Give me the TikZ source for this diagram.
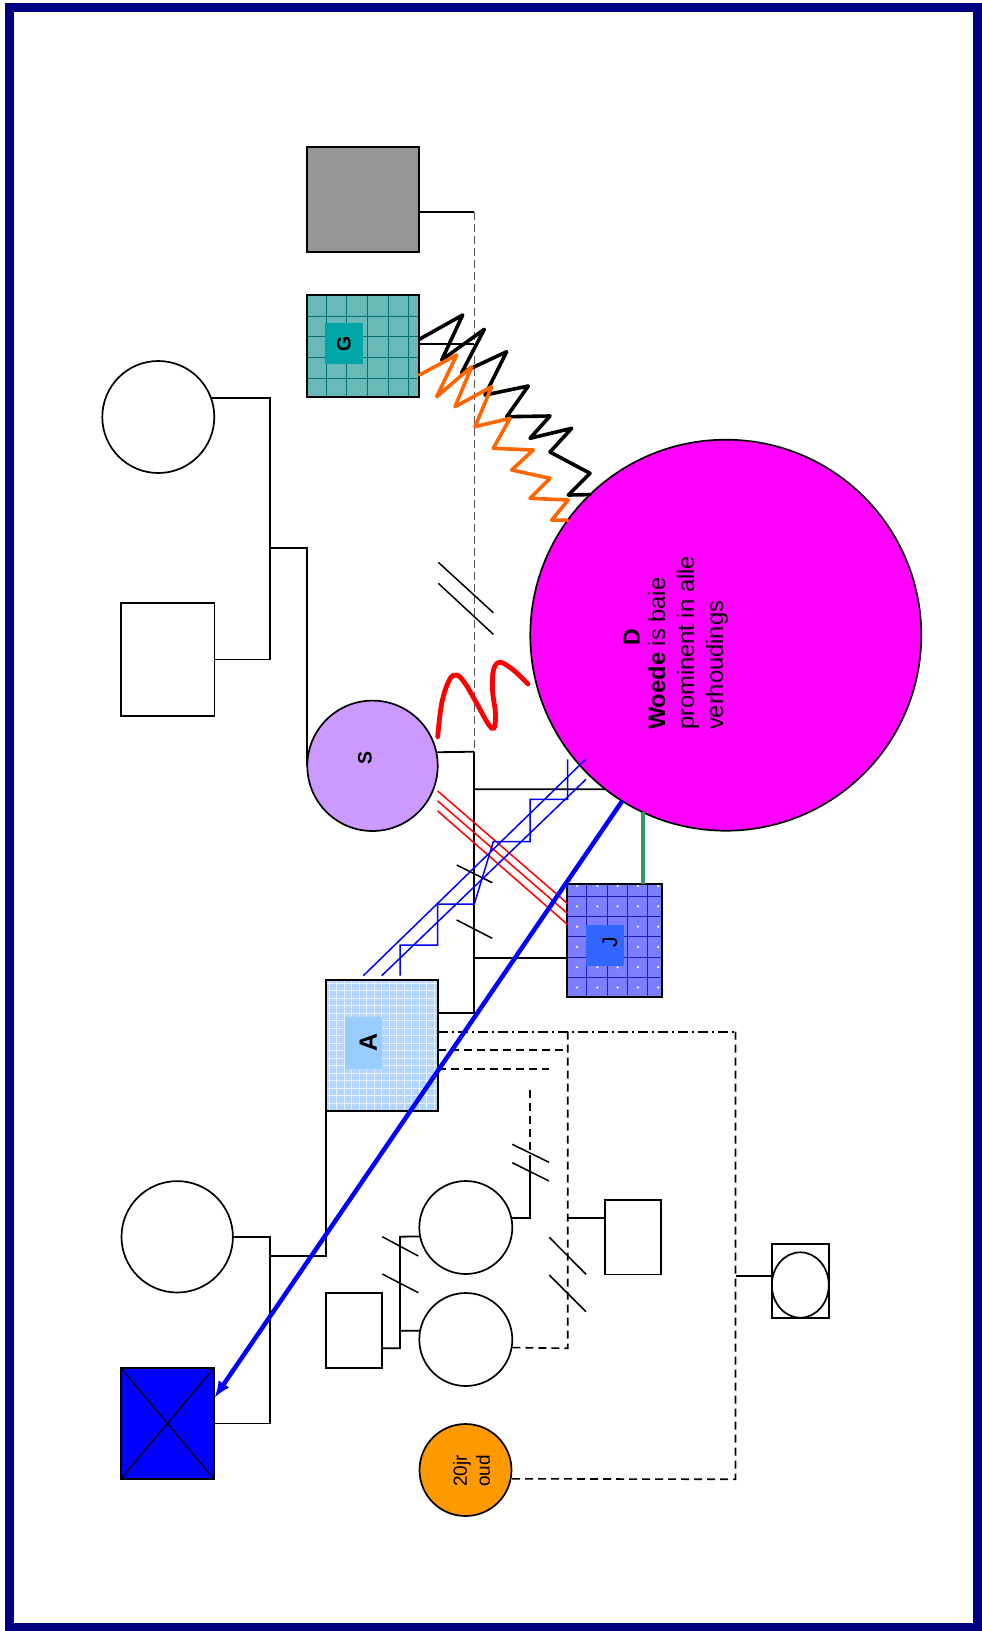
\documentclass[tikz,border=0pt]{standalone}
\usepackage{fontspec}
\setmainfont{Liberation Sans}
\usetikzlibrary{arrows.meta,calc,shapes.geometric}
\definecolor{navyb}{RGB}{0,0,128}
\definecolor{grayfill}{RGB}{150,150,150}
\definecolor{tealbg}{RGB}{105,185,185}
\definecolor{tealbox}{RGB}{0,166,166}
\definecolor{tealline}{RGB}{0,115,115}
\definecolor{abg}{RGB}{178,214,255}
\definecolor{abox}{RGB}{153,204,255}
\definecolor{jbg}{RGB}{125,125,255}
\definecolor{jbox}{RGB}{51,102,255}
\definecolor{jline}{RGB}{30,30,190}
\definecolor{lilac}{RGB}{204,153,255}
\definecolor{magentaD}{RGB}{255,0,255}
\definecolor{orangeC}{RGB}{255,153,0}
\definecolor{zzorange}{RGB}{255,102,0}
\definecolor{dgreen}{RGB}{51,153,102}
\definecolor{pureblue}{RGB}{0,0,255}
\definecolor{dashgray}{RGB}{85,85,85}
\begin{document}
\begin{tikzpicture}[x=1pt,y=-1pt,
  pbox/.style={draw=black,line width=1.7pt,inner sep=0pt,outer sep=0pt},
  sq/.style={pbox,rectangle},
  ci/.style={pbox,circle},
  rel/.style={draw=black,line width=1.8pt},
  slash/.style={draw=black,line width=1.5pt},
  dashrel/.style={draw=black,line width=1.6pt,dash pattern=on 8pt off 5pt},
  dashdotrel/.style={draw=black,line width=1.6pt,dash pattern=on 10pt off 4pt on 2pt off 4pt},
  graydash/.style={draw=dashgray,line width=1.6pt,dash pattern=on 8pt off 4pt},
  lbl/.style={rotate=90,inner sep=0pt},
  zz/.style={line width=3.6pt,line join=round,line cap=round},
  bluethin/.style={draw=pureblue,line width=1.5pt},
  redthin/.style={draw=red,line width=1.5pt},
]
\useasboundingbox (0,0) rectangle (982,1631);
\draw[navyb,line width=9pt] (9.5,7) rectangle (977.5,1627.5);

% ---------- persons ----------
\node[sq,fill=grayfill,minimum width=112pt,minimum height=104.4pt] (gray) at (363.3,199.5) {};
\node[sq,fill=tealbg,minimum width=112pt,minimum height=102pt] (G) at (363.3,345.7) {};
\begin{scope}
\clip (G.south west) rectangle (G.north east);
\foreach \k in {0,...,4} \draw[tealline,line width=0.8pt] (326+\k*20.7,294.7) -- ++(0,102);
\foreach \k in {-1,...,4} \draw[tealline,line width=0.8pt] (307.3,316+\k*20.7) -- ++(112,0);
\end{scope}
\draw[line width=1.7pt] (G.south west) rectangle (G.north east);
\node[lbl,fill=tealbox,minimum width=41.6pt,minimum height=37.7pt,font=\fontsize{19.5}{23}\selectfont\bfseries] (Gt) at (343.8,343.5) {G};

\node[ci,minimum size=112pt] (tc) at (158.3,417) {};
\node[sq,minimum width=93.3pt,minimum height=112.4pt] (ts) at (167.7,659.5) {};
\node[ci,fill=lilac,minimum size=130.4pt] (S) at (372.5,765.8) {};
\node[lbl,font=\fontsize{19.5}{23}\selectfont\bfseries] (St) at (365,758) {S};

\node[ci,fill=magentaD,minimum size=391pt] (D) at (725.8,635.2) {};
\node[lbl,font=\fontsize{23}{28}\selectfont\bfseries] (Dt) at (631.7,636.7) {D};
\node[lbl,align=left,font=\fontsize{23.7}{29}\selectfont] (Dtxt) at (688,643) {\textbf{Woede} is baie\\prominent in alle\\verhoudings};

\node[sq,fill=jbg,minimum width=94.4pt,minimum height=112.4pt] (J) at (614.5,940.5) {};
\begin{scope}
\clip (J.south west) rectangle (J.north east);
\foreach \k in {0,...,3} \draw[jline,line width=0.8pt] (586.7+\k*20.3,884.3) -- ++(0,112.4);
\foreach \k in {0,...,4} \draw[jline,line width=0.8pt] (567.3,896+\k*20.3) -- ++(94.4,0);
\foreach \i in {0,...,4} \foreach \j in {0,...,5} \fill[white] (577+\i*20.3,886+\j*20.3) circle (1.2pt);
\end{scope}
\draw[line width=1.7pt] (J.south west) rectangle (J.north east);
\node[lbl,fill=jbox,minimum width=41pt,minimum height=38pt] (Jbox) at (605,945.5) {};
\node[lbl,font=\fontsize{21}{25}\selectfont] (Jt) at (610,942) {J};

\node[sq,fill=abg,minimum width=112.6pt,minimum height=130.7pt] (A) at (382,1045.35) {};
\begin{scope}
\clip (A.south west) rectangle (A.north east);
\foreach \k in {0,...,15} \draw[white,line width=0.7pt,opacity=0.7] (329+\k*7.5,980) -- ++(0,130.7);
\foreach \k in {0,...,17} \draw[white,line width=0.7pt,opacity=0.7] (325.7,983+\k*7.5) -- ++(112.6,0);
\end{scope}
\draw[line width=1.7pt] (A.south west) rectangle (A.north east);
\node[lbl,fill=abox,minimum width=51.7pt,minimum height=37.3pt] (Abox) at (363.7,1043.2) {};
\node[lbl,font=\fontsize{25}{30}\selectfont\bfseries] (At) at (368.3,1042.8) {A};

\node[ci,minimum size=111.4pt] (lc) at (177.2,1236.8) {};
\node[sq,fill=pureblue,minimum width=93.6pt,minimum height=111.6pt] (X) at (167.5,1423.5) {};
\draw[line width=1.2pt] (X.north west) -- (X.south east) (X.north east) -- (X.south west);
\node[sq,minimum width=56.6pt,minimum height=75pt] (sm) at (354,1330.2) {};
\node[ci,minimum size=93pt] (c1) at (465.8,1227.5) {};
\node[ci,minimum size=93pt] (c2) at (465.8,1339.5) {};
\node[sq,minimum width=56pt,minimum height=74.3pt] (rr) at (633,1237.2) {};
\node[ci,fill=orangeC,minimum size=92pt] (o) at (465.5,1470) {};
\node[lbl,align=center,font=\fontsize{19}{23}\selectfont] (ot) at (471.7,1471) {20jr\\oud};
\node[sq,minimum width=57.3pt,minimum height=74pt] (sc) at (800.3,1281.3) {};
\node[pbox,ellipse,minimum width=57pt,minimum height=65.4pt] (sce) at (800.3,1285) {};

% ---------- family lines ----------
\coordinate (gj) at (474.3,211.7);
\coordinate (sj) at (474.3,751.7);
\coordinate (aj) at (474.3,1012.7);
\draw[rel] (tc.20) -| (270,659.5) -- (ts.east);
\draw[rel] (270,548.3) -| (S.west);
\draw[rel] (gray.east |- gj) -- (gj);
\draw[graydash] (gj) -- (sj);
\draw[rel] (G.east |- 0,344.3) -- (474.3,344.3);
\draw[rel] (S.12.5) -- (sj);
\draw[rel] (sj) -- (aj);
\draw[rel] (474.3,789.3) -- (D.-128);
\draw[rel] (474.3,957.7) -- (J.west |- 0,957.7);
\draw[rel] (A.east |- aj) -- (aj);
\draw[slash] (438.3,562.3) -- (493.3,612.7);
\draw[slash] (438.3,583.3) -- (493.3,634.3);
\draw[slash] (456.7,865) -- (492.3,882.7);
\draw[slash] (456.7,920) -- (492.3,938.3);

\draw[rel] (lc.east) -| (270,1423.5) -- (X.east);
\draw[rel] (A.south west) |- (270,1256);
\draw[rel] (sm.east |- 0,1348.3) -| (400,1236.7) -- (c1.191.4);
\draw[rel] (400,1330.7) -- (c2.169);
\draw[slash] (382.3,1236.7) -- (418.3,1256);
\draw[slash] (382.3,1274) -- (418.3,1292.7);
\draw[rel] (c1.12) -| (530,1163.3);
\draw[dashrel] (530,1163.3) -- (530,1088.3);
\draw[slash] (512.3,1144.3) -- (549,1162.3);
\draw[slash] (512.3,1162.7) -- (549,1181);

\draw[dashdotrel] (A.east |- 0,1031.7) -- (735.5,1031.7);
\draw[dashrel] (735.5,1031.7) -- (735.5,1479.3) -- (o.-11.7);
\draw[dashrel] (A.east |- 0,1050) -- (567.7,1050);
\draw[dashrel] (567.7,1031.7) -- (567.7,1348.3) -- (c2.-10.9);
\draw[dashrel] (A.east |- 0,1069) -- (549.3,1069);
\draw[rel] (567.7,1217.7) -- (rr.west |- 0,1217.7);
\draw[slash] (549.3,1237.3) -- (586,1274.3);
\draw[slash] (549.3,1275) -- (586,1311.7);
\draw[rel] (735.5,1276) -- (sc.west |- 0,1276);

% ---------- emotional relations ----------
\draw[zz,black] (G.east |- 0,339.3) -- (462.7,315) -- (441.7,360) -- (484.3,329.3) -- (461.7,372.7) -- (506.7,351.7) -- (485,395) -- (528.3,386) -- (506.7,416.7) -- (550,416) -- (530,438.3) -- (571.7,428.3) -- (550,452) -- (590,473.3) -- (568.3,495) -- (D.134);
\draw[zz,zzorange] (G.east |- 0,375) -- (456.7,355) -- (436.7,396.7) -- (471.7,366.7) -- (455,406.7) -- (491.7,386.7) -- (475,426.7) -- (510,418.3) -- (493.3,448.3) -- (533.3,450) -- (511.7,470) -- (550,478.3) -- (530,498.3) -- (568.3,500) -- (551.7,520) -- (D.144);

\draw[red,line width=4.8pt,line cap=round] plot[smooth,tension=0.6] coordinates {(437.7,736.7) (441.7,703.3) (449.3,680) (456.7,675) (465,683.3) (476.7,703.3) (488.3,724) (494,728) (495.5,714) (492.5,690) (493.5,670) (500,662.3) (513.3,670) (528,684)};

\draw[redthin] (437.7,791) -- (J.west |- 0,903.3);
\draw[redthin] (437.7,801) -- (J.west |- 0,913.3);
\draw[redthin] (437.7,811) -- (J.west |- 0,924.3);

\draw[bluethin] (363.3,975.7) -- (586,759);
\draw[bluethin] (381.7,975.7) -- (586,779.3);
\draw[bluethin] (400,975.7) -- (400,945) -- (437.7,945) -- (437.7,904) -- (474.3,904) -- (493.3,841.7) -- (530,841.7) -- (530,799.3) -- (567.7,799.3) -- (567.7,759.3);

\draw[dgreen,line width=3.4pt] (D.-115.2) -- (D.-115.2 |- J.north);

\draw[pureblue,line width=4.5pt,-{Latex[length=17pt,width=13pt]}] (D.-122) -- (X.east |- 0,1398);
\end{tikzpicture}
\end{document}
